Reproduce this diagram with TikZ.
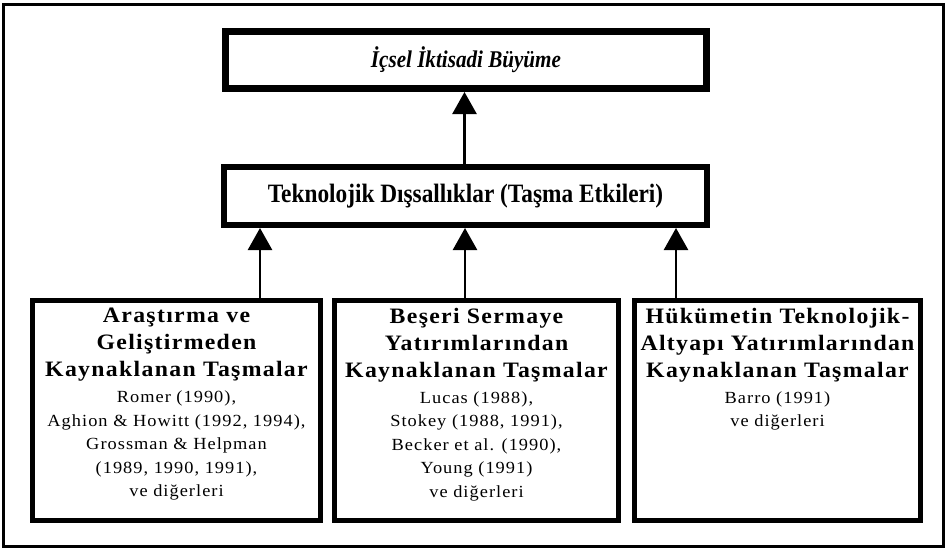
\documentclass[tikz,border=0pt]{standalone}
\usepackage{fontspec}
\setmainfont{Liberation Serif}
\newfontfamily\spacedserif{Liberation Serif}[LetterSpace=6, FakeStretch=1.08]
\newfontfamily\narrowserif{Liberation Serif}[FakeStretch=0.88]
\usetikzlibrary{arrows.meta,positioning}

\tikzset{
  frame/.style={draw, line width=3pt},
  topbox/.style={draw, line width=7pt, minimum width=481pt, minimum height=57pt},
  midbox/.style={draw, line width=6pt, minimum width=483pt, minimum height=58pt},
  srcbox/.style={draw, line width=5pt, minimum height=220pt},
  headtxt/.style={align=center, inner sep=0pt, font=\spacedserif\bfseries\fontsize{22}{27}\selectfont},
  bodytxt/.style={align=center, inner sep=0pt, font=\spacedserif\fontsize{17}{23.5}\selectfont},
  uparrow/.style={line width=2.5pt, -{Triangle[length=22pt,width=24pt]}}
}

\begin{document}
\begin{tikzpicture}[x=1pt, y=-1pt]
  \useasboundingbox (0,0) rectangle (948,549);
  \draw[frame] (3.5,4.5) rectangle (943.5,546.5);

  % top: growth
  \node[topbox, font=\narrowserif\bfseries\itshape\fontsize{24}{28}\selectfont] (growth) at (466,60) {İçsel İktisadi Büyüme};
  % middle: externalities
  \node[midbox, font=\narrowserif\bfseries\fontsize{26.5}{30}\selectfont] (ext) at (465.5,196) {Teknolojik Dışsallıklar (Taşma Etkileri)};

  % bottom: three sources
  \node[srcbox, minimum width=288pt] (rd) at (176.5,410.5) {};
  \node[srcbox, minimum width=284pt] (hc) at (476.5,410.5) {};
  \node[srcbox, minimum width=286pt] (gov) at (777.5,410.5) {};

  \node[headtxt, anchor=north] (rdh) at ([yshift=-10pt]rd.north) {Araştırma ve\\Geliştirmeden\\Kaynaklanan Taşmalar};
  \node[bodytxt, below=9pt of rdh] (rdb) {Romer (1990),\\Aghion \& Howitt (1992, 1994),\\Grossman \& Helpman\\(1989, 1990, 1991),\\ve diğerleri};

  \node[headtxt, anchor=north] (hch) at ([yshift=-10pt]hc.north) {Beşeri Sermaye\\Yatırımlarından\\Kaynaklanan Taşmalar};
  \node[bodytxt, below=9pt of hch] (hcb) {Lucas (1988),\\Stokey (1988, 1991),\\Becker et al. (1990),\\Young (1991)\\ve diğerleri};

  \node[headtxt, anchor=north] (govh) at ([yshift=-10pt]gov.north) {Hükümetin Teknolojik-\\Altyapı Yatırımlarından\\Kaynaklanan Taşmalar};
  \node[bodytxt, below=9pt of govh] (govb) {Barro (1991)\\ve diğerleri};

  % arrows
  \draw[uparrow] ([xshift=-1pt]ext.north) -- ([xshift=-1.5pt]growth.south);
  \draw[uparrow] ([xshift=83.5pt]rd.north) -- ([xshift=83.5pt]rd.north |- ext.south);
  \draw[uparrow] ([xshift=-11.5pt]hc.north) -- ([xshift=-11.5pt]hc.north |- ext.south);
  \draw[uparrow] ([xshift=-101.5pt]gov.north) -- ([xshift=-101.5pt]gov.north |- ext.south);
\end{tikzpicture}
\end{document}
